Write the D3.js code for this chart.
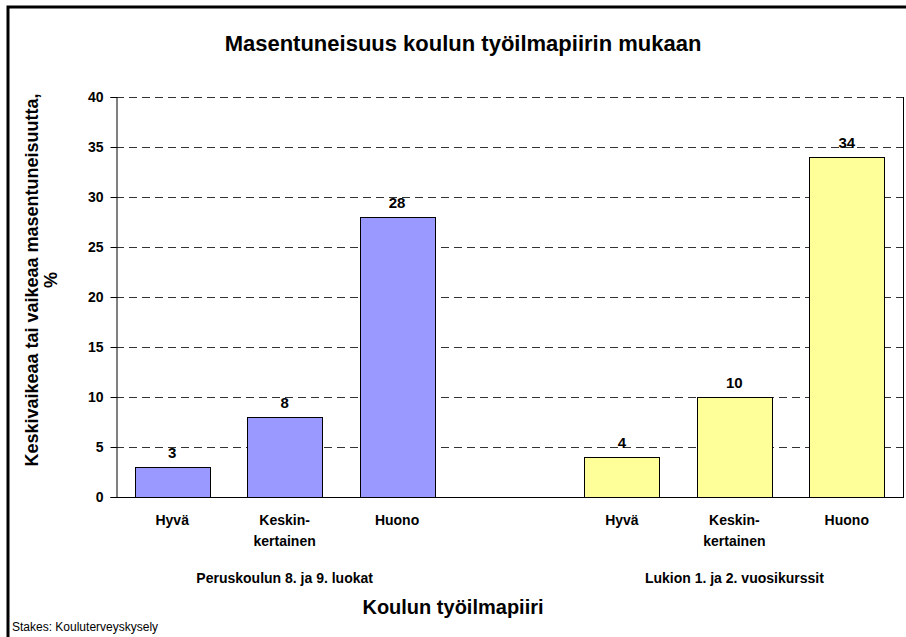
<!DOCTYPE html>
<html>
<head>
<meta charset="utf-8">
<script src="https://cdn.jsdelivr.net/npm/d3@7"></script>
<style>
  body { margin: 0; background: #fff; }
  svg text { font-family: "Liberation Sans", Arial, sans-serif; fill: #000; }
</style>
</head>
<body>
<svg id="chart" width="906" height="637"></svg>
<script>
// data
var slots = ["p1", "p2", "p3", "gap", "l1", "l2", "l3"];
var categories = ["Hyvä", "Keskin-\nkertainen", "Huono", "", "Hyvä", "Keskin-\nkertainen", "Huono"];
var values = [3, 8, 28, null, 4, 10, 34];
var groups = ["Peruskoulun 8. ja 9. luokat", "Lukion 1. ja 2. vuosikurssit"];
var groupSlots = [["p1", "p2", "p3"], ["l1", "l2", "l3"]];
var groupColors = ["#9999ff", "#ffff99"];
var yTicks = [0, 5, 10, 15, 20, 25, 30, 35, 40];

var svg = d3.select("#chart");
var plotLeft = 116, plotRight = 903, plotTop = 97, plotBottom = 497;

var x = d3.scaleBand().domain(slots).range([plotLeft, plotRight])
    .paddingInner(1 / 3).paddingOuter(1 / 6);
var y = d3.scaleLinear().domain([0, 40]).range([plotBottom, plotTop]);

// outer frame (only top and left visible)
svg.append("path")
    .attr("d", "M8,637 L8,7 L906,7")
    .attr("fill", "none").attr("stroke", "#000").attr("stroke-width", 3);

// title
svg.append("text")
    .attr("x", 463).attr("y", 51)
    .attr("text-anchor", "middle")
    .style("font-size", "22px").style("font-weight", "bold")
    .text("Masentuneisuus koulun työilmapiirin mukaan");

// gridlines
svg.append("g").selectAll("line")
    .data(yTicks.filter(function (d) { return d > 0; }))
    .enter().append("line")
    .attr("x1", plotLeft).attr("x2", plotRight)
    .attr("y1", function (d) { return y(d) + 0.5; })
    .attr("y2", function (d) { return y(d) + 0.5; })
    .attr("stroke", "#333").attr("stroke-dasharray", "8,5");

// right border of plot area
svg.append("line")
    .attr("x1", plotRight + 0.5).attr("x2", plotRight + 0.5)
    .attr("y1", plotTop).attr("y2", plotBottom)
    .attr("stroke", "#000");

// bars
var barData = slots.map(function (s, i) {
    return { slot: s, value: values[i], group: i < 3 ? 0 : 1 };
}).filter(function (d) { return d.value != null; });

svg.append("g").selectAll("rect")
    .data(barData)
    .enter().append("rect")
    .attr("x", function (d) { return Math.round(x(d.slot)) + 0.5; })
    .attr("y", function (d) { return y(d.value) + 0.5; })
    .attr("width", Math.round(x.bandwidth()))
    .attr("height", function (d) { return y(0) - y(d.value); })
    .attr("fill", function (d) { return groupColors[d.group]; })
    .attr("stroke", "#000").attr("stroke-width", 1);

// value labels
svg.append("g").selectAll("text")
    .data(barData)
    .enter().append("text")
    .attr("x", function (d) { return x(d.slot) + x.bandwidth() / 2; })
    .attr("y", function (d) { return y(d.value) - 9; })
    .attr("text-anchor", "middle")
    .style("font-size", "15px").style("font-weight", "bold")
    .text(function (d) { return d.value; });

// y axis
var yAxis = svg.append("g")
    .attr("transform", "translate(" + (plotLeft + 0.5) + ",0)")
    .call(d3.axisLeft(y).tickValues(yTicks).tickSize(6).tickPadding(7));
yAxis.select(".domain").attr("stroke", "#000");
yAxis.selectAll("text")
    .style("font-size", "14px").style("font-weight", "bold")
    .style("font-family", "Liberation Sans, Arial, sans-serif");

// x axis line
svg.append("line")
    .attr("x1", plotLeft).attr("x2", plotRight + 1)
    .attr("y1", plotBottom + 0.5).attr("y2", plotBottom + 0.5)
    .attr("stroke", "#000");

// category labels
var catText = svg.append("g").selectAll("text")
    .data(slots.map(function (s, i) { return { slot: s, label: categories[i] }; }))
    .enter().append("text")
    .attr("x", function (d) { return x(d.slot) + x.bandwidth() / 2; })
    .attr("y", 525)
    .attr("text-anchor", "middle")
    .style("font-size", "14px").style("font-weight", "bold");
catText.each(function (d) {
    var t = d3.select(this);
    d.label.split("\n").forEach(function (line, k) {
        t.append("tspan").attr("x", x(d.slot) + x.bandwidth() / 2)
            .attr("dy", k === 0 ? 0 : 21).text(line);
    });
});

// group labels
svg.append("g").selectAll("text")
    .data(groups)
    .enter().append("text")
    .attr("x", function (d, i) {
        var g = groupSlots[i];
        return (x(g[0]) + x(g[g.length - 1]) + x.bandwidth()) / 2;
    })
    .attr("y", 583)
    .attr("text-anchor", "middle")
    .style("font-size", "14px").style("font-weight", "bold")
    .text(function (d) { return d; });

// x axis title
svg.append("text")
    .attr("x", 453).attr("y", 614)
    .attr("text-anchor", "middle")
    .style("font-size", "20px").style("font-weight", "bold")
    .text("Koulun työilmapiiri");

// y axis title
var yTitle = svg.append("text")
    .attr("transform", "translate(38,280) rotate(-90)")
    .attr("text-anchor", "middle")
    .style("font-size", "18px").style("font-weight", "bold");
yTitle.append("tspan").attr("x", 0).attr("dy", 0).text("Keskivaikeaa tai vaikeaa masentuneisuutta,");
yTitle.append("tspan").attr("x", 0).attr("dy", 19).text("%");

// source
svg.append("text")
    .attr("x", 12).attr("y", 631)
    .style("font-size", "12px")
    .text("Stakes: Kouluterveyskysely");
</script>
</body>
</html>
